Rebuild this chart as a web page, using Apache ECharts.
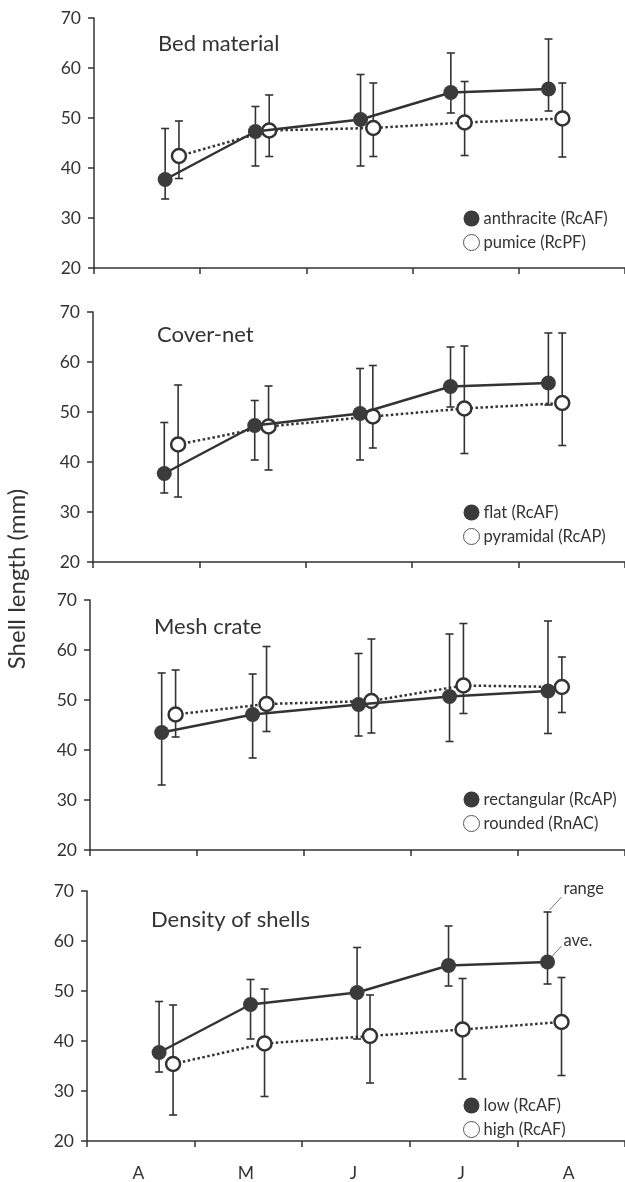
<!DOCTYPE html>
<html>
<head>
<meta charset="utf-8">
<script src="https://cdn.jsdelivr.net/npm/echarts@6/dist/echarts.min.js"></script>
<style>
html,body{margin:0;padding:0;background:#fff;}
#c{width:625px;height:1182px;}
</style>
</head>
<body>
<div id="c"></div>
<script>
// ---- data ----
const months = ['A', 'M', 'J', 'J', 'A'];
const yTicks = [20, 30, 40, 50, 60, 70];
// sampling positions (fractional months from start of April)
const xFilled = [0.67, 1.52, 2.51, 3.36, 4.28];
const xOpen = [0.80, 1.65, 2.63, 3.49, 4.41];

const panelTitles = ['Bed material', 'Cover-net', 'Mesh crate', 'Density of shells'];
const filledNames = ['anthracite (RcAF)', 'flat (RcAF)', 'rectangular (RcAP)', 'low (RcAF)'];
const openNames = ['pumice (RcPF)', 'pyramidal (RcAP)', 'rounded (RnAC)', 'high (RcAF)'];

// RcAF
const rcafAve = [37.7, 47.3, 49.7, 55.1, 55.8];
const rcafMax = [47.9, 52.3, 58.7, 63.0, 65.8];
const rcafMin = [33.8, 40.4, 40.4, 51.0, 51.4];
// RcPF
const rcpfAve = [42.4, 47.5, 48.0, 49.1, 49.9];
const rcpfMax = [49.4, 54.6, 57.0, 57.3, 57.0];
const rcpfMin = [37.9, 42.3, 42.3, 42.5, 42.2];
// RcAP
const rcapAve = [43.5, 47.1, 49.1, 50.7, 51.8];
const rcapMax = [55.4, 55.2, 59.3, 63.2, 65.8];
const rcapMin = [33.0, 38.4, 42.8, 41.7, 43.3];
// RnAC
const rnacAve = [47.1, 49.2, 49.8, 52.9, 52.6];
const rnacMax = [56.0, 60.7, 62.2, 65.3, 58.6];
const rnacMin = [42.6, 43.7, 43.4, 47.3, 47.5];
// RcAF high density
const highAve = [35.4, 39.5, 41.0, 42.3, 43.8];
const highMax = [47.2, 50.4, 49.2, 52.5, 52.7];
const highMin = [25.2, 28.9, 31.6, 32.4, 33.1];

const panels = [
  { filled: [rcafAve, rcafMin, rcafMax], open: [rcpfAve, rcpfMin, rcpfMax] },
  { filled: [rcafAve, rcafMin, rcafMax], open: [rcapAve, rcapMin, rcapMax] },
  { filled: [rcapAve, rcapMin, rcapMax], open: [rnacAve, rnacMin, rnacMax] },
  { filled: [rcafAve, rcafMin, rcafMax], open: [highAve, highMin, highMax] }
];

// ---- layout ----
const FONT = 'Lato, "Open Sans", sans-serif';
const INK = '#333';
const gridTops = [18, 312, 600, 891];
const gridLefts = [94, 93, 90, 87];
const gridH = 250;
const titleY = [46, 337, 629, 922];
const legendTops = [205, 499, 786, 1092];

const chart = echarts.init(document.getElementById('c'), null, { renderer: 'canvas' });

const grids = [], xAxes = [], yAxes = [], series = [], legends = [], graphics = [];

function errRender(params, api) {
  const x = api.value(0);
  const p1 = api.coord([x, api.value(1)]);
  const p2 = api.coord([x, api.value(2)]);
  const w = 4;
  const st = { stroke: INK, lineWidth: 1.6 };
  return {
    type: 'group',
    children: [
      { type: 'line', shape: { x1: p1[0], y1: p1[1], x2: p2[0], y2: p2[1] }, style: st },
      { type: 'line', shape: { x1: p1[0] - w, y1: p1[1], x2: p1[0] + w, y2: p1[1] }, style: st },
      { type: 'line', shape: { x1: p2[0] - w, y1: p2[1], x2: p2[0] + w, y2: p2[1] }, style: st }
    ]
  };
}

panels.forEach((p, i) => {
  grids.push({ left: gridLefts[i], right: 0, top: gridTops[i], height: gridH, containLabel: false });
  xAxes.push({
    type: 'value', gridIndex: i, min: 0, max: months.length, interval: 1,
    axisLine: { show: true, onZero: false, lineStyle: { color: INK, width: 1.5 } },
    axisTick: { show: true, length: 6, lineStyle: { color: INK, width: 1.5 } },
    axisLabel: { show: false }, splitLine: { show: false }
  });
  yAxes.push({
    type: 'value', gridIndex: i, min: yTicks[0], max: yTicks[yTicks.length - 1], interval: 10,
    axisLine: { show: true, onZero: false, lineStyle: { color: INK, width: 1.5 } },
    axisTick: { show: true, length: 6, lineStyle: { color: INK, width: 1.5 } },
    axisLabel: { color: INK, fontSize: 17.5, fontFamily: FONT, margin: 13 },
    splitLine: { show: false }
  });

  const [fa, fmin, fmax] = p.filled;
  const [oa, omin, omax] = p.open;

  series.push({
    type: 'custom', name: filledNames[i] + ' range', xAxisIndex: i, yAxisIndex: i, z: 1,
    renderItem: errRender, data: xFilled.map((x, k) => [x, fmin[k], fmax[k]]), silent: true
  });
  series.push({
    type: 'custom', name: openNames[i] + ' range', xAxisIndex: i, yAxisIndex: i, z: 1,
    renderItem: errRender, data: xOpen.map((x, k) => [x, omin[k], omax[k]]), silent: true
  });
  series.push({
    type: 'line', name: openNames[i], xAxisIndex: i, yAxisIndex: i, z: 3,
    data: xOpen.map((x, k) => [x, oa[k]]),
    symbol: 'circle', symbolSize: 14, showSymbol: true,
    lineStyle: { color: INK, width: 2.5, type: [2.5, 2.5] },
    itemStyle: { color: '#fff', borderColor: INK, borderWidth: 2.5 },
    animation: false
  });
  series.push({
    type: 'line', name: filledNames[i], xAxisIndex: i, yAxisIndex: i, z: 4,
    data: xFilled.map((x, k) => [x, fa[k]]),
    symbol: 'circle', symbolSize: 15, showSymbol: true,
    lineStyle: { color: INK, width: 2.5 },
    itemStyle: { color: '#3b3b3b', borderColor: '#3b3b3b', borderWidth: 0 },
    animation: false
  });

  legends.push({
    orient: 'vertical', left: 458, top: legendTops[i],
    itemWidth: 16, itemHeight: 16, itemGap: 7, selectedMode: false,
    textStyle: { color: INK, fontSize: 16.5, fontFamily: FONT, padding: [0, 0, 0, -1] },
    data: [
      { name: filledNames[i], icon: 'circle', itemStyle: { color: '#3b3b3b', borderWidth: 0 } },
      { name: openNames[i], icon: 'circle', itemStyle: { color: '#fff', borderColor: '#555', borderWidth: 1 } }
    ]
  });

  graphics.push({
    type: 'text', left: 158 - (94 - gridLefts[i]), top: titleY[i] - 13,
    style: { text: panelTitles[i], fill: INK, font: '22px ' + FONT }
  });
});

// month labels on bottom panel
xAxes.push({
  type: 'category', gridIndex: 3, data: months, boundaryGap: true, position: 'bottom',
  axisLine: { show: false }, axisTick: { show: false }, splitLine: { show: false },
  axisLabel: { color: INK, fontSize: 17.5, fontFamily: FONT, margin: 23, padding: [0, 5, 0, 0] }
});

graphics.push({
  type: 'text', x: 17, y: 579, rotation: Math.PI / 2,
  style: { text: 'Shell length (mm)', fill: INK, font: '24px ' + FONT, align: 'center', verticalAlign: 'middle' }
});

chart.setOption({
  animation: false,
  backgroundColor: '#fff',
  grid: grids, xAxis: xAxes, yAxis: yAxes, series: series, legend: legends, graphic: graphics
});

// annotations ("range", "ave.") attached to last point of bottom panel
const lastIdx = xFilled.length - 1;
const rangePx = chart.convertToPixel({ gridIndex: 3 }, [xFilled[lastIdx], rcafMax[lastIdx]]);
const avePx = chart.convertToPixel({ gridIndex: 3 }, [xFilled[lastIdx], rcafAve[lastIdx]]);
const lead = { stroke: '#777', lineWidth: 1 };
graphics.push(
  { type: 'line', shape: { x1: rangePx[0] + 2, y1: rangePx[1] - 2, x2: rangePx[0] + 14, y2: rangePx[1] - 15 }, style: lead },
  { type: 'text', x: rangePx[0] + 16, y: rangePx[1] - 23, style: { text: 'range', fill: INK, font: '16.5px ' + FONT, verticalAlign: 'middle' } },
  { type: 'line', shape: { x1: avePx[0] + 4, y1: avePx[1] - 5, x2: avePx[0] + 14, y2: avePx[1] - 16 }, style: lead },
  { type: 'text', x: avePx[0] + 16, y: avePx[1] - 21, style: { text: 'ave.', fill: INK, font: '16.5px ' + FONT, verticalAlign: 'middle' } }
);
chart.setOption({ graphic: graphics });
</script>
</body>
</html>
